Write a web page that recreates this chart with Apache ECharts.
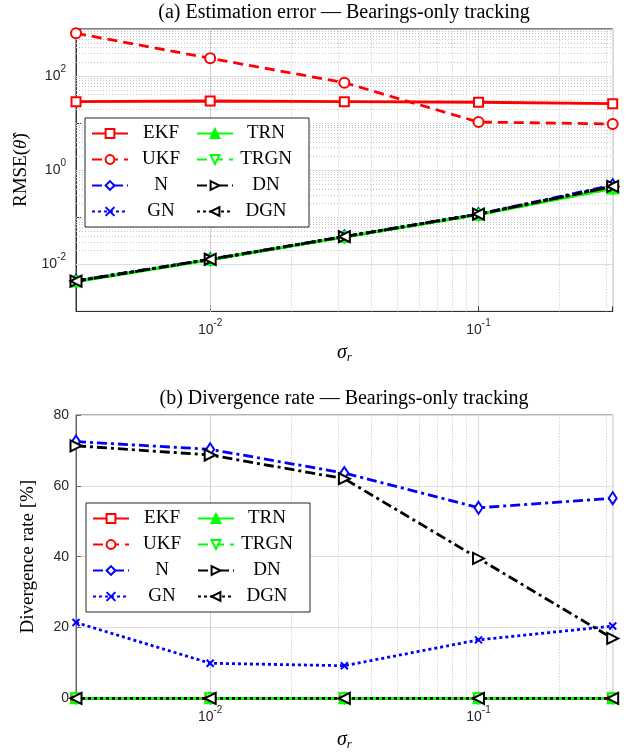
<!DOCTYPE html>
<html><head><meta charset="utf-8">
<script src="https://cdn.jsdelivr.net/npm/echarts@6/dist/echarts.min.js"></script>
<style>html,body{margin:0;padding:0;background:#fff}#c{width:631px;height:754px}</style>
</head><body><div id="c"></div>
<script>
// ---- data ----
const sigma = [0.0031623, 0.01, 0.031623, 0.1, 0.31623];
const methods = ['EKF', 'UKF', 'N', 'GN', 'TRN', 'TRGN', 'DN', 'DGN'];
const legendOrder = ['EKF', 'TRN', 'UKF', 'TRGN', 'N', 'DN', 'GN', 'DGN'];

const rmseEKF  = [28.5, 29.4, 28.5, 27.7, 25.8];
const rmseUKF  = [807, 238, 72, 10.5, 9.6];
const rmseN    = [0.0045, 0.0128, 0.039, 0.117, 0.48];
const rmseGN   = [0.0044, 0.0127, 0.0388, 0.116, 0.46];
const rmseTRN  = [0.0043, 0.0125, 0.038, 0.113, 0.41];
const rmseTRGN = [0.0043, 0.0125, 0.038, 0.113, 0.41];
const rmseDN   = [0.0044, 0.0128, 0.0387, 0.116, 0.45];
const rmseDGN  = [0.0044, 0.0127, 0.0387, 0.116, 0.45];

const divEKF  = [0, 0, 0, 0, 0];
const divUKF  = [0, 0, 0, 0, 0];
const divN    = [72.5, 70.3, 63.6, 53.8, 56.5];
const divGN   = [21.4, 9.9, 9.2, 16.5, 20.4];
const divTRN  = [0, 0, 0, 0, 0];
const divTRGN = [0, 0, 0, 0, 0];
const divDN   = [71.3, 68.7, 62.0, 39.5, 16.9];
const divDGN  = [0, 0, 0, 0, 0];

const topTickExps = [-2, 0, 2];
const bottomYTicks = [0, 20, 40, 60, 80];
const minorMultipliers = [2, 3, 4, 5, 6, 7, 8, 9];

const rmse = {EKF: rmseEKF, UKF: rmseUKF, N: rmseN, GN: rmseGN, TRN: rmseTRN, TRGN: rmseTRGN, DN: rmseDN, DGN: rmseDGN};
const div  = {EKF: divEKF, UKF: divUKF, N: divN, GN: divGN, TRN: divTRN, TRGN: divTRGN, DN: divDN, DGN: divDGN};

// ---- styles ----
const SERIF = 'Liberation Serif';
const SANS = 'Liberation Sans';
const LW = 2.8;
const sty = {
  EKF:  {c: '#ff0000', dash: 'solid',        sym: 'rect', size: 9, fill: '#ffffff'},
  UKF:  {c: '#ff0000', dash: [10, 6],        sym: 'circle', size: 10, fill: '#ffffff'},
  N:    {c: '#0000ff', dash: [10, 4, 3, 4],  sym: 'diamond', size: [8, 12], fill: '#ffffff'},
  GN:   {c: '#0000ff', dash: [3, 3],         sym: 'path://M0,0L10,10M10,0L0,10', size: 7, fill: '#0000ff'},
  TRN:  {c: '#00ff00', dash: 'solid',        sym: 'triangle', size: 10, fill: '#00ff00'},
  TRGN: {c: '#00ff00', dash: [10, 6],        sym: 'path://M0,0L10,0L5,10Z', size: 10, fill: '#ffffff'},
  DN:   {c: '#000000', dash: [10, 4, 3, 4],  sym: 'path://M0,0L10,5L0,10Z', size: 11, fill: '#ffffff'},
  DGN:  {c: '#000000', dash: [3, 3],         sym: 'path://M10,0L0,5L10,10Z', size: 11, fill: '#ffffff'}
};

function mkSeries(name, vals, gi) {
  const s = sty[name];
  return {
    name: name, type: 'line', xAxisIndex: gi, yAxisIndex: gi, clip: false,
    data: sigma.map((x, i) => [x, vals[i]]),
    symbol: s.sym, symbolSize: s.size, showSymbol: true,
    lineStyle: {color: s.c, width: LW, type: s.dash},
    itemStyle: {color: s.fill, borderColor: s.c, borderWidth: 2},
    emphasis: {disabled: true}, z: 3
  };
}

const minorX = [];
[-3, -2, -1].forEach(k => minorMultipliers.forEach(m => {
  const v = m * Math.pow(10, k);
  if (v > sigma[0] * 1.0001 && v < sigma[4] * 0.9999) minorX.push(v);
}));
const minorYTop = [];
[-3, -2, -1, 0, 1, 2].forEach(k => minorMultipliers.forEach(m => minorYTop.push(m * Math.pow(10, k))));
minorYTop.push(0.1, 10);
const majorYTop = topTickExps.map(e => Math.pow(10, e));

const minorLS = {color: '#c4c4c4', width: 1, type: [1, 2]};
const majorLS = {color: '#dedede', width: 1, type: 'solid'};

function gridSeries(gi, withY) {
  const d = minorX.map(v => ({xAxis: v, lineStyle: minorLS}));
  if (withY) {
    minorYTop.forEach(v => d.push({yAxis: v, lineStyle: minorLS}));
    majorYTop.forEach(v => d.push({yAxis: v, lineStyle: majorLS}));
  }
  return {
    type: 'line', xAxisIndex: gi, yAxisIndex: gi, data: [], silent: true, z: 1,
    markLine: {silent: true, z: 1, symbol: ['none', 'none'], label: {show: false}, animation: false,
               emphasis: {disabled: true}, data: d}
  };
}

const richTick = {
  b: {fontFamily: SANS, fontSize: 14, lineHeight: 24, color: '#262626'},
  s: {fontFamily: SANS, fontSize: 10, lineHeight: 10, verticalAlign: 'top', color: '#262626'}
};
function powFmt(allowed) {
  return function (v) {
    const e = Math.log10(v), r = Math.round(e);
    if (Math.abs(e - r) > 1e-6) return '';
    if (allowed && allowed.indexOf(r) < 0) return '';
    return '{b|10}{s|' + r + '}';
  };
}

const axisColTop = '#333333';
const axisColBot = '#666666';

function xAxis(gi, col) {
  return {
    type: 'log', logBase: 10, gridIndex: gi, min: sigma[0], max: sigma[4],
    axisLine: {show: true, onZero: false, lineStyle: {color: col, width: 1}},
    axisTick: {show: true, inside: true, length: 5, lineStyle: {color: col}},
    axisLabel: {formatter: powFmt(null), rich: richTick, margin: 7, color: '#262626'},
    splitLine: {show: true, lineStyle: {color: '#dedede', width: 1}},
    minorTick: {show: false}, minorSplitLine: {show: false},
    name: '{i|σ}{r|r}', nameLocation: 'middle', nameGap: 29,
    nameTextStyle: {rich: {
      i: {fontFamily: SERIF, fontStyle: 'italic', fontSize: 20, lineHeight: 24, color: '#000'},
      r: {fontFamily: SERIF, fontStyle: 'italic', fontSize: 13, lineHeight: 13, verticalAlign: 'bottom', color: '#000'}
    }}
  };
}

const legendBase = {
  orient: 'horizontal', width: 240, itemWidth: 36, itemHeight: 11, itemGap: 7,
  padding: [6, 15, 6, 6], borderColor: '#262626', borderWidth: 1, backgroundColor: '#ffffff',
  data: legendOrder, selectedMode: false, z: 10,
  formatter: n => '{c|' + n + '}',
  textStyle: {color: '#000', fontFamily: SERIF, fontSize: 19,
    rich: {c: {width: 56, align: 'center', fontFamily: SERIF, fontSize: 19, lineHeight: 20, color: '#000'}}}
};

const series = [gridSeries(0, true), gridSeries(1, false)];
methods.forEach(m => series.push(mkSeries(m, rmse[m], 0)));
methods.forEach(m => series.push(mkSeries(m, div[m], 1)));

const chart = echarts.init(document.getElementById('c'), null, {renderer: 'canvas'});
chart.setOption({
  animation: false,
  backgroundColor: '#ffffff',
  title: [
    {text: '(a) Estimation error — Bearings-only tracking', left: 344, top: 3, textAlign: 'center', padding: 0,
     textStyle: {fontFamily: SERIF, fontSize: 20, fontWeight: 'normal', color: '#000'}},
    {text: '(b) Divergence rate — Bearings-only tracking', left: 344, top: 389, textAlign: 'center', padding: 0,
     textStyle: {fontFamily: SERIF, fontSize: 20, fontWeight: 'normal', color: '#000'}}
  ],
  legend: [
    Object.assign({}, legendBase, {left: 85, top: 118}),
    Object.assign({}, legendBase, {left: 86, top: 503})
  ],
  grid: [
    {left: 76, right: 18.3, top: 28.9, height: 282.5, show: true, borderColor: axisColTop, borderWidth: 1,
     backgroundColor: 'transparent', outerBoundsMode: 'none', containLabel: false},
    {left: 76, right: 18.3, top: 415, height: 283.3, show: true, borderColor: axisColBot, borderWidth: 1,
     backgroundColor: 'transparent', outerBoundsMode: 'none', containLabel: false}
  ],
  xAxis: [xAxis(0, axisColTop), xAxis(1, axisColBot)],
  yAxis: [
    {type: 'log', logBase: 10, gridIndex: 0, min: 1e-3, max: 1e3,
     axisLine: {show: true, lineStyle: {color: axisColTop}},
     axisTick: {show: true, inside: true, length: 5, lineStyle: {color: axisColTop}},
     axisLabel: {formatter: powFmt(topTickExps), rich: richTick, margin: 10, color: '#262626'},
     splitLine: {show: false},
     name: '{n|RMSE(}{t|θ̂}{n|)}', nameLocation: 'middle', nameGap: 38,
     nameTextStyle: {rich: {
       n: {fontFamily: SERIF, fontSize: 19, color: '#000'},
       t: {fontFamily: SERIF, fontStyle: 'italic', fontSize: 19, color: '#000'}
     }}},
    {type: 'value', gridIndex: 1, min: bottomYTicks[0], max: bottomYTicks[bottomYTicks.length - 1], interval: 20,
     axisLine: {show: true, lineStyle: {color: axisColBot}},
     axisTick: {show: true, inside: true, length: 5, lineStyle: {color: axisColBot}},
     axisLabel: {fontFamily: SANS, fontSize: 14, margin: 7, color: '#262626'},
     splitLine: {show: true, lineStyle: {color: '#dedede', width: 1}},
     name: 'Divergence rate [%]', nameLocation: 'middle', nameGap: 38,
     nameTextStyle: {fontFamily: SERIF, fontSize: 19, color: '#000'}}
  ],
  series: series
});
</script></body></html>
